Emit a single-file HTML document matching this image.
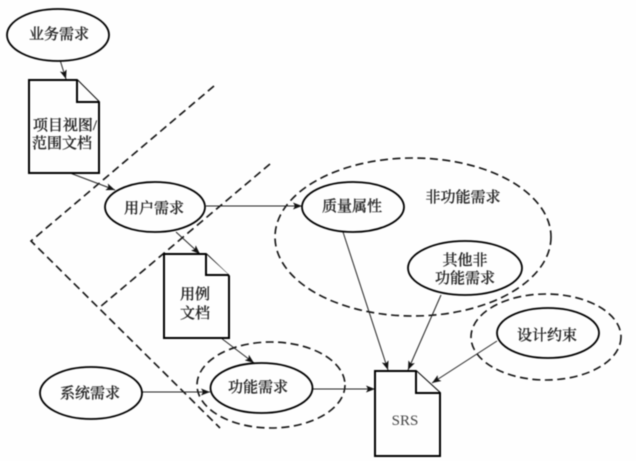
<!DOCTYPE html>
<html lang="zh">
<head>
<meta charset="utf-8">
<style>
html,body{margin:0;padding:0;background:#fefefe;width:636px;height:461px;overflow:hidden}
svg{display:block;filter:blur(.6px)}
text{font-family:"Liberation Serif","Noto Serif CJK SC",serif;font-size:15px;fill:#222;stroke:#222;stroke-width:.25;text-anchor:middle;font-weight:500}
.s{fill:#fefefe;stroke:#000;stroke-width:1.800}
.k{fill:#fefefe;stroke:#000;stroke-width:2}
.d{fill:none;stroke:#111;stroke-width:1.600;stroke-dasharray:8 4.500}
.a{fill:none;stroke:#222;stroke-width:1}
</style>
</head>
<body>
<svg width="636" height="461" viewBox="0 0 636 461" xmlns="http://www.w3.org/2000/svg">
<defs>
<marker id="m" markerWidth="10" markerHeight="8" refX="9" refY="3.5" orient="auto" markerUnits="userSpaceOnUse">
<path d="M0 0L9 3.5L0 7L2 3.5Z" fill="#111"/>
</marker>
</defs>

<!-- dashed boundaries -->
<ellipse class="d" cx="413" cy="237" rx="138" ry="79"/>
<ellipse class="d" cx="546" cy="337" rx="75" ry="43"/>
<ellipse class="d" cx="271" cy="385" rx="74" ry="43"/>
<path class="d" d="M214 86L31 241L220 428"/>
<path class="d" d="M270 164L100 307"/>

<!-- connectors -->
<path class="a" marker-end="url(#m)" d="M60 60L66 79"/>
<path class="a" marker-end="url(#m)" d="M70 173L115 190"/>
<path class="a" marker-end="url(#m)" d="M206 206L302 206"/>
<path class="a" marker-end="url(#m)" d="M176 232L200 254"/>
<path class="a" marker-end="url(#m)" d="M221 338L254 363"/>
<path class="a" marker-end="url(#m)" d="M142 392L210 392"/>
<path class="a" marker-end="url(#m)" d="M312 389L375 389"/>
<path class="a" marker-end="url(#m)" d="M343 232L388 370"/>
<path class="a" marker-end="url(#m)" d="M441 295L408 370"/>
<path class="a" marker-end="url(#m)" d="M497 341L432 383"/>

<!-- ellipses -->
<ellipse class="s" cx="58" cy="35" rx="51" ry="26"/>
<ellipse class="s" cx="155" cy="207" rx="50" ry="25"/>
<ellipse class="s" cx="353" cy="207" rx="51" ry="25"/>
<ellipse class="s" cx="465" cy="268" rx="57" ry="27"/>
<ellipse class="s" cx="548" cy="333" rx="51" ry="25"/>
<ellipse class="s" cx="261.500" cy="388" rx="51" ry="25"/>
<ellipse class="s" cx="91" cy="393" rx="51" ry="26"/>

<!-- documents -->
<path class="k" d="M29 80H77L99 102V173H29Z"/>
<path class="k" d="M77 80V102H99"/>
<path class="k" d="M164 254H206L229 276V338H164Z"/>
<path class="k" d="M206 254V275H229"/>
<path class="k" d="M375 371H416L440 393V456H375Z"/>
<path class="k" d="M416 371V393H440"/>

<!-- labels -->
<text x="65" y="130">项目视图/</text>
<text x="62" y="148">范围文档</text>
<text x="59" y="39">业务需求</text>
<text x="154" y="213">用户需求</text>
<text x="352" y="211">质量属性</text>
<text x="463" y="202">非功能需求</text>
<text x="465" y="265">其他非</text>
<text x="465" y="283">功能需求</text>
<text x="547" y="340">设计约束</text>
<text x="195" y="299">用例</text>
<text x="195" y="318">文档</text>
<text x="258" y="392">功能需求</text>
<text x="90" y="398">系统需求</text>
<text x="405" y="425" style="font-size:15px;stroke:none;fill:#444">SRS</text>
</svg>
</body>
</html>
